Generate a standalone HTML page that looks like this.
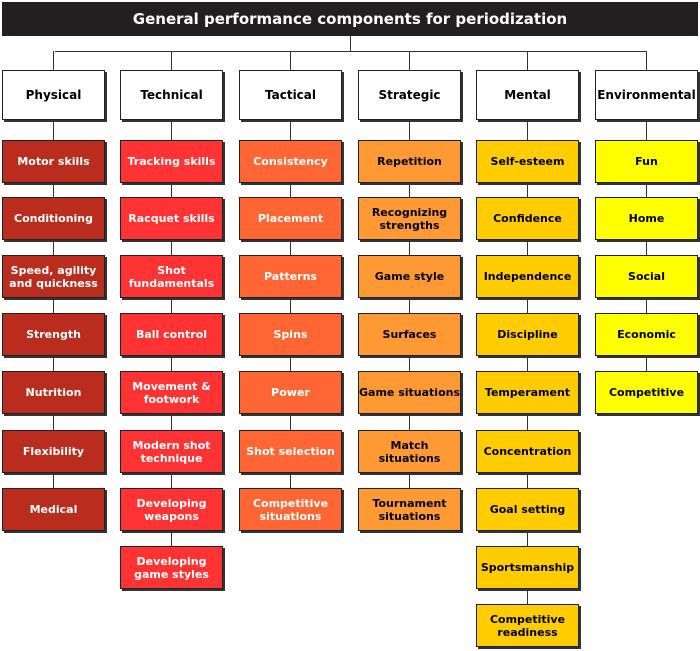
<!DOCTYPE html>
<html><head><meta charset="utf-8"><style>
body{margin:0;width:700px;height:651px;background:#fff;position:relative;overflow:hidden;font-family:"DejaVu Sans","Liberation Sans",sans-serif;}
.t{position:absolute;left:2px;top:2px;width:696px;height:34px;background:#231f20;color:#fff;font-weight:bold;font-size:15px;text-align:center;line-height:34px;}
.b{position:absolute;box-sizing:border-box;width:103px;border:1px solid #222;box-shadow:2px 2px 0 #333;display:flex;align-items:center;justify-content:center;text-align:center;font-weight:bold;font-size:11px;line-height:13px;}
.h{background:#fff;color:#000;height:50px;top:70px;font-size:12px;}
.l{position:absolute;background:#333;}
</style></head><body>
<div class="t">General performance components for periodization</div>
<div id="root"></div>
<script>
const headers=["Physical","Technical","Tactical","Strategic","Mental","Environmental"];
const colors=["#b92c1e","#ff3333","#ff6633","#ff9933","#ffcc00","#ffff00"];
const textColors=["#fff","#fff","#fff","#000","#000","#000"];
const items=[
["Motor skills","Conditioning","Speed, agility and quickness","Strength","Nutrition","Flexibility","Medical"],
["Tracking skills","Racquet skills","Shot fundamentals","Ball control","Movement & footwork","Modern shot technique","Developing weapons","Developing game styles"],
["Consistency","Placement","Patterns","Spins","Power","Shot selection","Competitive situations"],
["Repetition","Recognizing strengths","Game style","Surfaces","Game situations","Match situations","Tournament situations"],
["Self-esteem","Confidence","Independence","Discipline","Temperament","Concentration","Goal setting","Sportsmanship","Competitive readiness"],
["Fun","Home","Social","Economic","Competitive"]];
const lefts=[2,120,239,358,476,595];
const tops=[140,197,255,313,371,430,488,546,604];
const root=document.body;
function line(x,y,w,h){const d=document.createElement('div');d.className='l';


d.style.left=x+'px';d.style.top=y+'px';d.style.width=w+'px';d.style.height=h+'px';root.appendChild(d);}
line(350,36,1,16);
line(55,51,591,1);
headers.forEach((h,i)=>{
 const cx=lefts[i]+51;
 line(cx,51,1,19);
 const n=items[i].length;
 line(cx,120,1,tops[n-1]-120);
 const d=document.createElement('div');d.className='b h';
 
 
 d.style.left=lefts[i]+'px';d.textContent=h;root.appendChild(d);
 items[i].forEach((t,j)=>{
  const e=document.createElement('div');e.className='b';
  
  
  e.style.left=lefts[i]+'px';e.style.top=tops[j]+'px';e.style.height='43px';
  e.style.background=colors[i];e.style.color=textColors[i];
  e.textContent=t;root.appendChild(e);
 });
});
</script>
</body></html>
